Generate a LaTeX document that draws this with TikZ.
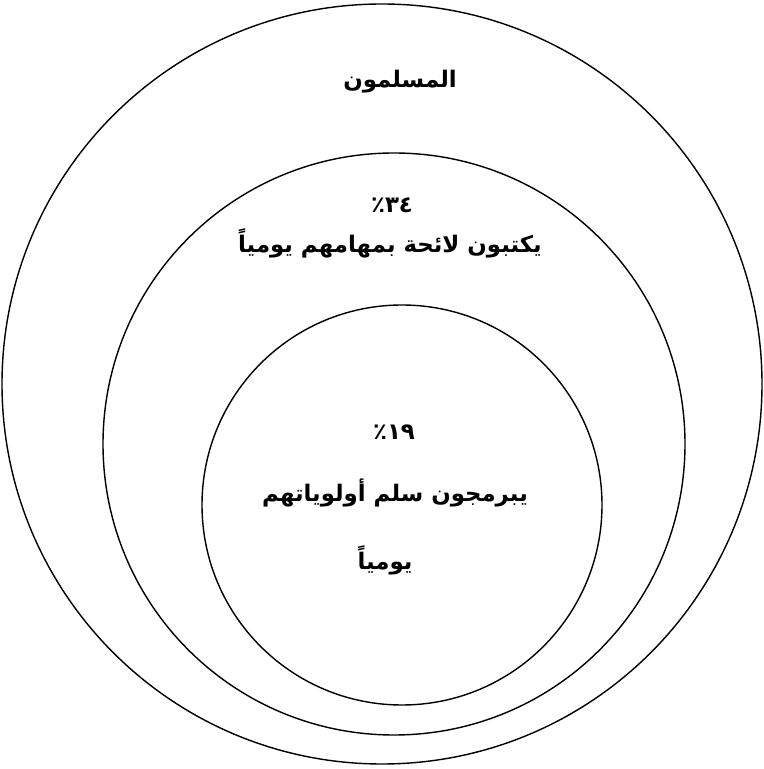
\documentclass[tikz,border=0pt]{standalone}
\usepackage{fontspec}
\newfontfamily\arabicfont[Script=Arabic]{DejaVu Sans}
\TeXXeTstate=1
\usetikzlibrary{positioning}

\begin{document}
\begin{tikzpicture}[
    ring/.style={draw, circle, line width=0.8pt, inner sep=0pt},
    label/.style={font=\arabicfont\bfseries\fontsize{13}{15}\selectfont, inner sep=1pt},
]
\useasboundingbox (0,0) rectangle (15.28,15.38);

% Circles
\node[ring, minimum size=15.2cm] (muslims) at (7.64, 7.70) {};
\node[ring, minimum size=11.64cm] (listers) at (7.88, 6.50) {};
\node[ring, minimum size=8.0cm] (planners) at (8.04, 5.28) {};

% Labels - outer
\node[label] (allname) at (8.00, 13.74) {\beginR المسلمون\endR};

% Labels - middle
\node[label] (listpct) at (7.84, 11.28) {\beginR ٣٤٪\endR};
\node[label] (listname) at (7.80, 10.52) {\beginR يكتبون لائحة بمهامهم يومياً\endR};

% Labels - inner
\node[label] (planpct) at (7.88, 6.74) {\beginR ١٩٪\endR};
\node[label] (planname) at (7.90, 5.52) {\beginR يبرمجون سلم أولوياتهم\endR};
\node[label] (planday) at (7.70, 4.18) {\beginR يومياً\endR};

\end{tikzpicture}
\end{document}
